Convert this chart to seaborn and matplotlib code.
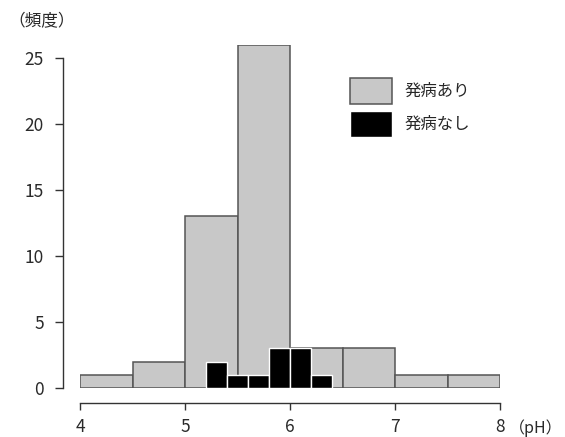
import matplotlib
matplotlib.use("Agg")
import matplotlib.pyplot as plt
from matplotlib.patches import Patch
import seaborn as sns
import numpy as np

# ---- data ----
gray_edges = [4.0, 4.5, 5.0, 5.5, 6.0, 6.5, 7.0, 7.5, 8.0]
gray_counts = [1, 2, 13, 26, 3, 3, 1, 1]
black_edges = [5.2, 5.4, 5.6, 5.8, 6.0, 6.2, 6.4]
black_counts = [2, 1, 1, 3, 3, 1]
x_ticks = [4, 5, 6, 7, 8]
y_ticks = [0, 5, 10, 15, 20, 25]
series_labels = ["発病あり", "発病なし"]
y_label = "（頻度）"
x_label = "（pH）"

sns.set_style("white")
plt.rcParams['font.family'] = ['Noto Sans CJK JP', 'DejaVu Sans']

W, H = 565, 437
fig = plt.figure(figsize=(W / 100, H / 100), dpi=100)
ax = fig.add_axes([80 / W, (H - 388) / H, 420 / W, (388 - 44.8) / H])

gray_centers = [(a + b) / 2 for a, b in zip(gray_edges[:-1], gray_edges[1:])]
black_centers = [(a + b) / 2 for a, b in zip(black_edges[:-1], black_edges[1:])]

sns.histplot(x=gray_centers, weights=gray_counts, bins=gray_edges, ax=ax,
             color="#c8c8c8", alpha=1, edgecolor="#555555", linewidth=1.1)
sns.histplot(x=black_centers, weights=black_counts, bins=black_edges, ax=ax,
             color="#000000", alpha=1, edgecolor="white", linewidth=1.0)

ax.set_xlim(4, 8)
ax.set_ylim(0, 26)
ax.set_xticks(x_ticks)
ax.set_yticks(y_ticks)
ax.set_xlabel("")
ax.set_ylabel("")
sns.despine(ax=ax)
ax.spines['left'].set_position(('outward', 12.2))
ax.spines['bottom'].set_position(('outward', 10.8))
ax.spines['left'].set_bounds(0, 25)
ax.spines['bottom'].set_bounds(4, 8)
for s in ['left', 'bottom']:
    ax.spines[s].set_color("#333333")
    ax.spines[s].set_linewidth(1.0)
ax.tick_params(axis='y', direction='out', length=6, width=1.0, color="#333333",
               pad=8, labelsize=12.5, labelcolor="#2a2a2a", left=True)
ax.tick_params(axis='x', direction='out', length=5, width=1.0, color="#333333",
               pad=6, labelsize=12.5, labelcolor="#2a2a2a", bottom=True)

handles = [Patch(facecolor="#c8c8c8", edgecolor="#555555", linewidth=1.1),
           Patch(facecolor="#000000", edgecolor="white", linewidth=1.0)]
fig.legend(handles, series_labels, loc='upper left',
           bbox_to_anchor=(350 / W, 1 - 78 / H), frameon=False,
           fontsize=11.8, handlelength=2.56, handleheight=2.03,
           labelspacing=0.45, handletextpad=0.75, borderpad=0, borderaxespad=0)

fig.text(8 / W, 1 - 22 / H, y_label, fontsize=12, color="#2a2a2a",
         ha='left', va='center')
fig.text(563 / W, 1 - 428 / H, x_label, fontsize=11.5, color="#2a2a2a",
         ha='right', va='center')

fig.savefig("out.png", dpi=100)
